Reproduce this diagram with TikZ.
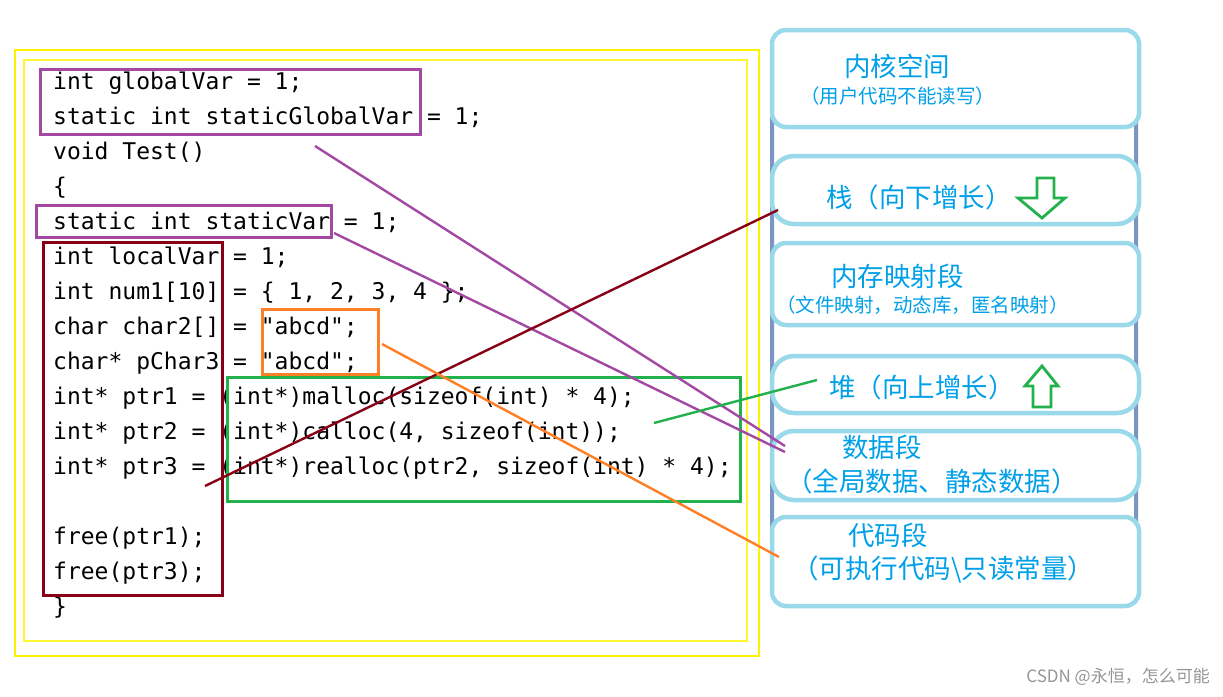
\documentclass[tikz,border=0pt]{standalone}
\usepackage{fontspec}
\newfontfamily\codefont{DejaVu Sans Mono}
\newfontfamily\cjk{Noto Sans CJK SC}
\definecolor{cpurple}{RGB}{163,73,164}
\definecolor{cdred}{RGB}{136,0,21}
\definecolor{corange}{RGB}{255,127,39}
\definecolor{cgreen}{RGB}{34,177,76}
\definecolor{cyellow}{RGB}{255,242,0}
\definecolor{cltblue}{RGB}{153,217,234}
\definecolor{cstblue}{RGB}{122,150,196}
\definecolor{ctext}{RGB}{0,160,233}
\definecolor{cwm}{RGB}{150,150,150}
\tikzset{
  codeline/.style={anchor=base west, inner sep=0pt, font=\codefont\fontsize{23}{23}\selectfont},
  seg/.style={draw=cltblue, line width=4.5pt, fill=white, rounded corners=14pt},
  segoval/.style={draw=cltblue, line width=4.5pt, fill=white, rounded corners=22pt},
  big/.style={anchor=west, inner sep=0pt, text=ctext, font=\cjk\fontsize{26.5}{26.5}\selectfont},
  small/.style={anchor=west, inner sep=0pt, text=ctext, font=\cjk\fontsize{19.5}{19.5}\selectfont},
  mid/.style={anchor=west, inner sep=0pt, text=ctext, font=\cjk\fontsize{19.5}{19.5}\selectfont},
  hl/.style={line width=3pt},
  link/.style={line width=2.4pt},
  growarrow/.style={draw=cgreen, line width=2.8pt, fill=white, line join=miter}
}
\begin{document}
\begin{tikzpicture}[x=1pt,y=-1pt]
\useasboundingbox (0,0) rectangle (1223,696);
\fill[white] (0,0) rectangle (1223,696);
% code frames
\draw[cyellow, line width=1.5pt] (15,50) rectangle (759,656);
\draw[cyellow!80!white, line width=1.3pt] (24,60) rectangle (747,641);
% code lines
\foreach \i/\t in {1/{int globalVar = 1;},2/{static int staticGlobalVar = 1;},3/{void Test()},4/{\{},5/{static int staticVar = 1;},6/{int localVar = 1;},7/{int num1[10] = \{ 1, 2, 3, 4 \};},8/{char char2[] = "abcd";},9/{char* pChar3 = "abcd";},10/{int* ptr1 = (int*)malloc(sizeof(int) * 4);},11/{int* ptr2 = (int*)calloc(4, sizeof(int));},12/{int* ptr3 = (int*)realloc(ptr2, sizeof(int) * 4);},14/{free(ptr1);},15/{free(ptr3);},16/{\}}}
  \node[codeline] (l\i) at (53,{89+35*(\i-1)}) {\t};
% highlight boxes
\draw[cpurple, hl] (40,69) rectangle (420,134) node[pos=0, inner sep=0] (globals) {};
\draw[cpurple, hl] (36,205) rectangle (331,237) node[pos=0, inner sep=0] (staticv) {};
\draw[cdred, hl] (43,242) rectangle (222,595) node[pos=0, inner sep=0] (locals) {};
\draw[corange, hl] (262,309) rectangle (378,374) node[pos=0, inner sep=0] (consts) {};
\draw[cgreen, hl] (227,377) rectangle (740,501) node[pos=0, inner sep=0] (heapcode) {};
% memory layout column
\draw[cstblue, line width=4pt, rounded corners=14pt] (772,32) rectangle (1136,605);
\draw[seg] (772,30) rectangle (1139,127);
\draw[segoval] (772,156) rectangle (1139,224);
\draw[seg] (772,243) rectangle (1139,325);
\draw[segoval] (772,356) rectangle (1139,413);
\draw[segoval] (772,431) rectangle (1139,500);
\draw[seg] (772,517) rectangle (1139,606);
% labels
\node[big] (kernel) at (844,66) {内核空间};
\node[small] (kernelnote) at (800,96) {（用户代码不能读写）};
\node[big] (stack) at (826,197) {栈（向下增长）};
\node[big] (mmap) at (831,276) {内存映射段};
\node[mid] (mmapnote) at (776,305) {（文件映射，动态库，匿名映射）};
\node[big] (heap) at (829,387) {堆（向上增长）};
\node[big] (data) at (842,447) {数据段};
\node[big] (datanote) at (786,481) {（全局数据、静态数据）};
\node[big] (code) at (848,535) {代码段};
\node[big] (codenote) at (792,570) {（可执行代码\textbackslash 只读常量）};
% growth arrows
\draw[growarrow] (1037,178) -- (1054,178) -- (1054,198) -- (1065,198) -- (1042,218) -- (1018,198) -- (1037,198) -- cycle;
\draw[growarrow] (1033,407) -- (1051,407) -- (1051,386) -- (1058,386) -- (1042,366) -- (1025,386) -- (1033,386) -- cycle;
% connector end points
\coordinate (gS) at (315,146);
\coordinate (gE) at (785,446);
\coordinate (sS) at (334,233);
\coordinate (sE) at (785,452);
\coordinate (lS) at (205,486);
\coordinate (lE) at (778,210);
\coordinate (cS) at (382,344);
\coordinate (cE) at (779,557);
\coordinate (hS) at (654,423);
\coordinate (hE) at (817,380);
\draw[link, cpurple] (gS) -- (gE);
\draw[link, cpurple] (sS) -- (sE);
\draw[link, cdred] (lS) -- (lE);
\draw[link, corange] (cS) -- (cE);
\draw[link, cgreen] (hS) -- (hE);
% watermark
\node[anchor=east, inner sep=0pt, text=cwm, font=\cjk\fontsize{17}{17}\selectfont] (wm) at (1210,677) {CSDN @永恒，怎么可能};
\end{tikzpicture}
\end{document}
